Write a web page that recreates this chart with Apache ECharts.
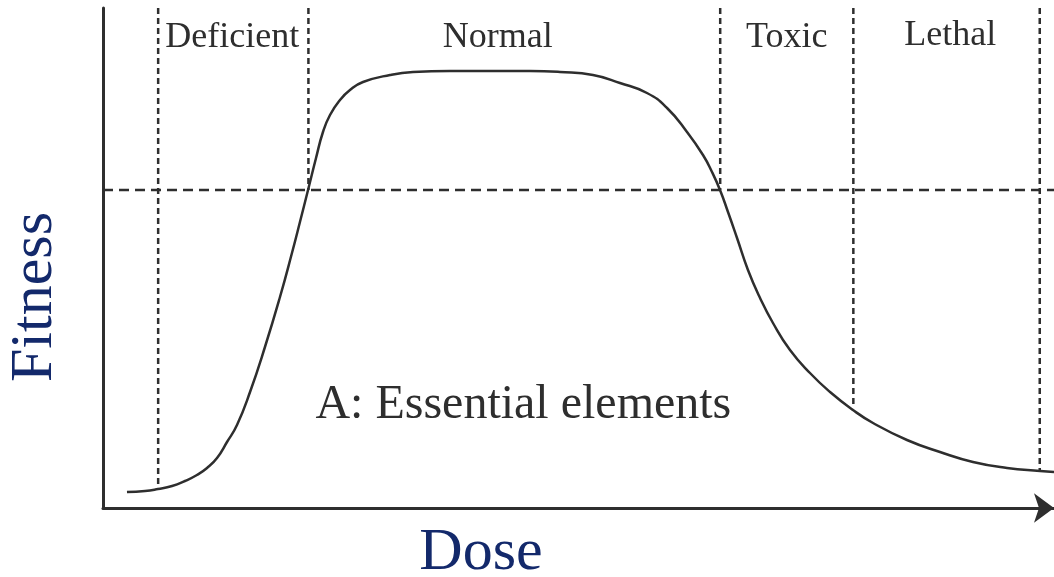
<!DOCTYPE html>
<html>
<head>
<meta charset="utf-8">
<script src="https://cdn.jsdelivr.net/npm/echarts@6/dist/echarts.min.js"></script>
<style>html,body{margin:0;padding:0;background:#fff}#c{width:1054px;height:577px}</style>
</head>
<body>
<div id="c"></div>
<script>
// Dose-response curve (arbitrary units, 0-100 on both axes)
const doseX = [2.52, 4.42, 5.78, 7.26, 8.62, 9.88, 10.94, 11.99, 13.04, 14.09, 15.46, 17.03, 18.61, 19.87, 20.71, 21.56, 22.40, 23.13, 23.87, 24.92, 25.97, 27.34, 30.18, 32.60, 36.49, 41.75, 44.90, 48.05, 51.52, 54.36, 57.20, 59.31, 61.41, 63.09, 64.04, 64.88, 65.72, 66.67, 67.82, 69.09, 70.45, 72.24, 74.34, 76.45, 78.86, 80.97, 84.54, 88.01, 91.48, 95.06, 98.53, 100];
const fitnessY = [3.2, 3.4, 3.8, 4.4, 5.4, 6.6, 8.0, 10.0, 13.2, 16.6, 23.2, 32.2, 42.2, 51.0, 57.2, 63.6, 70.0, 75.2, 78.6, 81.6, 83.6, 85.2, 86.6, 87.2, 87.4, 87.4, 87.4, 87.2, 86.6, 85.0, 83.0, 80.0, 75.2, 70.6, 67.2, 63.6, 59.2, 54.0, 47.6, 42.0, 37.0, 31.6, 27.0, 23.2, 19.6, 17.0, 13.6, 11.2, 9.2, 8.0, 7.4, 7.2];
// Region boundaries (dose) and where each dashed line stops (fitness)
const boundaryDose = [5.8, 21.6, 64.9, 78.9, 98.5];
const boundaryEnd = [3.8, 63.6, 63.6, 20.0, 7.6];
const boundaryTop = 100;
const thresholdFitness = 63.6;
// Region labels
const regionNames = ['Deficient', 'Normal', 'Toxic', 'Lethal'];
const regionX = [13.6, 41.5, 71.9, 89.1];
const regionY = [94.0, 94.0, 94.0, 94.4];
const panelLabel = 'A: Essential elements';
const panelX = 44.2, panelY = 20.6;
const xTitle = 'Dose', yTitle = 'Fitness';

const ink = '#2e2e2e';
const navy = '#13296b';
const serif = '"Liberation Serif", "DejaVu Serif", serif';

const series = [];
series.push({
  type: 'line', data: doseX.map((x, i) => [x, fitnessY[i]]),
  smooth: 0.5, showSymbol: false, symbol: 'none',
  lineStyle: { color: ink, width: 2.5 }, z: 5, silent: true
});
boundaryDose.forEach((x, i) => {
  series.push({
    type: 'line', data: [[x, boundaryTop], [x, boundaryEnd[i]]],
    showSymbol: false, symbol: 'none', silent: true,
    lineStyle: { color: ink, width: 2.5, type: [6, 4] }
  });
});
series.push({
  type: 'line', data: [[0, thresholdFitness], [100, thresholdFitness]],
  showSymbol: false, symbol: 'none', silent: true,
  lineStyle: { color: ink, width: 2.5, type: [10, 6] }
});
series.push({
  type: 'scatter', symbolSize: 1, silent: true,
  itemStyle: { color: 'rgba(0,0,0,0)', opacity: 1 },
  data: regionNames.map((n, i) => ({ value: [regionX[i], regionY[i]], name: n })),
  label: { show: true, position: 'inside', formatter: p => p.name,
    fontFamily: serif, fontSize: 36, color: ink, opacity: 1 }
});
series.push({
  type: 'scatter', symbolSize: 1, silent: true,
  itemStyle: { color: 'rgba(0,0,0,0)', opacity: 1 },
  data: [{ value: [panelX, panelY], name: panelLabel }],
  label: { show: true, position: 'inside', formatter: p => p.name,
    fontFamily: serif, fontSize: 48, color: ink, opacity: 1 }
});

const chart = echarts.init(document.getElementById('c'), null, { renderer: 'canvas' });
chart.setOption({
  animation: false,
  backgroundColor: '#ffffff',
  grid: { left: 103, right: 0, top: 8, bottom: 69 },
  xAxis: {
    type: 'value', min: 0, max: 100,
    axisLine: { show: true, symbol: ['none', 'arrow'], symbolSize: [22, 20],
      lineStyle: { color: ink, width: 3 } },
    axisTick: { show: false }, axisLabel: { show: false }, splitLine: { show: false }
  },
  yAxis: {
    type: 'value', min: 0, max: 100,
    axisLine: { show: true, lineStyle: { color: ink, width: 3 } },
    axisTick: { show: false }, axisLabel: { show: false }, splitLine: { show: false }
  },
  graphic: [
    { type: 'text', x: 481, y: 553, style: { text: xTitle, fontFamily: serif, fontSize: 60,
      fill: navy, align: 'center', verticalAlign: 'middle' } },
    { type: 'text', x: 35, y: 297, rotation: Math.PI / 2, style: { text: yTitle, fontFamily: serif,
      fontSize: 60, fill: navy, align: 'center', verticalAlign: 'middle' } }
  ],
  series: series
});
</script>
</body>
</html>
